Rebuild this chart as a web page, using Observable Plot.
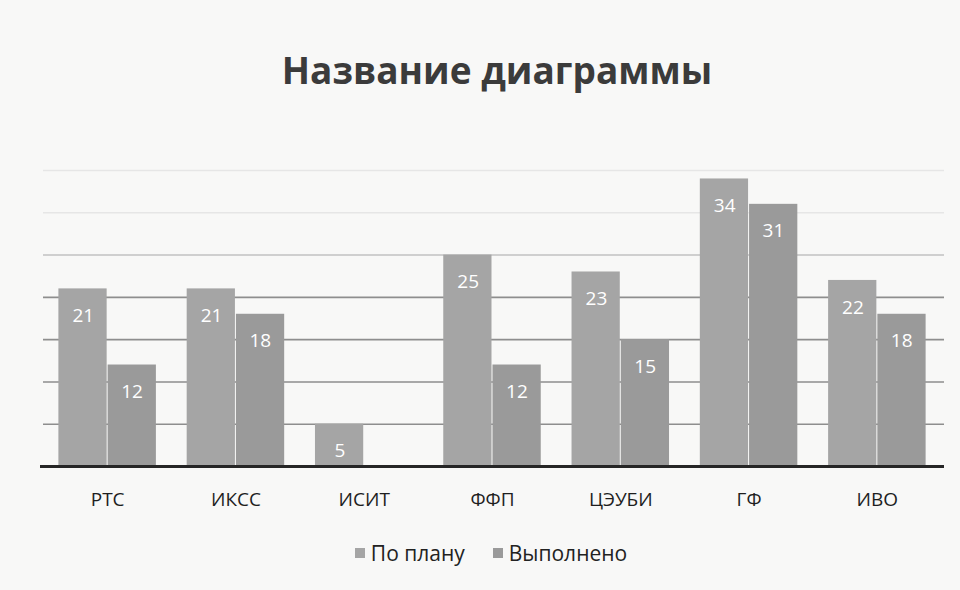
<!DOCTYPE html>
<html>
<head>
<meta charset="utf-8">
<script src="https://cdn.jsdelivr.net/npm/d3@7"></script>
<script src="https://cdn.jsdelivr.net/npm/@observablehq/plot@0.6"></script>
<style>
  html, body { margin: 0; padding: 0; background: #f8f8f7; }
  body { width: 960px; height: 590px; overflow: hidden; font-family: "Open Sans", sans-serif; }
  #title { height: 120px; box-sizing: border-box; padding-top: 49px; padding-left: 34px; text-align: center;
           font-size: 37px; font-weight: 700; line-height: 42px; color: #3b3b3b; }
  #chart { height: 410px; }
  #legend { height: 60px; display: flex; justify-content: center; align-items: center;
            gap: 28px; font-size: 21px; color: #222; margin-top: -7px; padding-left: 22px; }
  .item { display: flex; align-items: center; gap: 6px; }
  .sw { width: 10px; height: 10px; display: inline-block; }
</style>
</head>
<body>
<div id="title">Название диаграммы</div>
<div id="chart"></div>
<div id="legend"></div>
<script>
const categories = ["РТС", "ИКСС", "ИСИТ", "ФФП", "ЦЭУБИ", "ГФ", "ИВО"];
const planValues = [21, 21, 5, 25, 23, 34, 22];
const doneValues = [12, 18, null, 12, 15, 31, 18];
const seriesNames = ["По плану", "Выполнено"];
const seriesColors = ["#a5a5a5", "#9a9a9a"];
const gridTicks = [5, 10, 15, 20, 25, 30, 35];

const plan = categories.map((c, i) => ({cat: c, value: planValues[i]}));
const done = categories.map((c, i) => ({cat: c, value: doneValues[i]})).filter(d => d.value != null);

const W = 960, H = 410, mL = 43, mR = 19, mT = 50, mB = 64;
const pIn = 0.24, pOut = 0.12;
const step = (W - mL - mR) / (categories.length - pIn + 2 * pOut);
const bw = step * (1 - pIn);
const half = bw / 2;

const chart = Plot.plot({
  width: W, height: H,
  marginLeft: mL, marginRight: mR, marginTop: mT, marginBottom: mB,
  style: {background: "transparent", fontFamily: "Open Sans, sans-serif"},
  x: {domain: categories, paddingInner: pIn, paddingOuter: pOut, round: false, label: null},
  y: {domain: [0, 35], axis: null},
  marks: [
    Plot.ruleY(gridTicks, {stroke: d => d >= 30 ? "#e6e6e6" : (d >= 25 ? "#c2c2c2" : "#8e8e8e"), strokeWidth: 1.6, insetRight: -3}),
    Plot.barY(plan, {x: "cat", y: "value", fill: seriesColors[0], insetRight: half + 0.5}),
    Plot.barY(done, {x: "cat", y: "value", fill: seriesColors[1], insetLeft: half + 0.5}),
    Plot.text(plan, {x: "cat", y: "value", text: d => String(d.value), dx: -half / 2, dy: 27, fill: "white", fontSize: 19}),
    Plot.text(done, {x: "cat", y: "value", text: d => String(d.value), dx: half / 2, dy: 27, fill: "white", fontSize: 19}),
    Plot.ruleY([0], {stroke: "#262626", strokeWidth: 3, insetLeft: -3, insetRight: -3}),
    Plot.axisX({tickSize: 0, tickPadding: 26, fontSize: 19, fill: "#1e1e1e", label: null})
  ]
});
document.getElementById("chart").appendChild(chart);

const legend = document.getElementById("legend");
seriesNames.forEach((name, i) => {
  const item = document.createElement("span");
  item.className = "item";
  const sw = document.createElement("span");
  sw.className = "sw";
  sw.style.background = seriesColors[i];
  const label = document.createElement("span");
  label.textContent = name;
  item.appendChild(sw);
  item.appendChild(label);
  legend.appendChild(item);
});
</script>
</body>
</html>
